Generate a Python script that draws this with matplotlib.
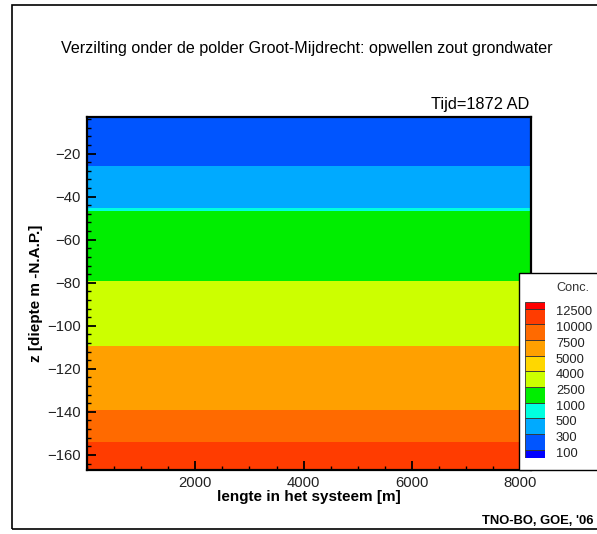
import numpy as np
import matplotlib
matplotlib.use('Agg')
import matplotlib.pyplot as plt
from matplotlib.colors import ListedColormap, BoundaryNorm
from matplotlib.ticker import MultipleLocator
from matplotlib.patches import Rectangle

plt.rcParams['font.family'] = ['Liberation Sans', 'DejaVu Sans']
plt.rcParams['axes.unicode_minus'] = True

# data
x_edges   = [0, 8200]
z_edges   = [-3, -25.8, -45.5, -46.9, -79.4, -109.5, -139.0, -153.8, -167]
conc      = [200, 400, 750, 1800, 3200, 6000, 8500, 11000]   # per laag, boven -> onder

levels    = [0, 100, 300, 500, 1000, 2500, 4000, 5000, 7500, 10000, 12500, 15000]
lev_label = ['12500', '10000', '7500', '5000', '4000', '2500', '1000', '500', '300', '100']
colors    = ['#0000FF', '#0055FF', '#00AAFF', '#00FFE0', '#00EE00', '#CCFF00',
             '#FFD700', '#FFA000', '#FF6A00', '#FF3C00', '#FF0000']

cmap = ListedColormap(colors)
norm = BoundaryNorm(levels, cmap.N)

fig = plt.figure(figsize=(5.97, 5.34), dpi=100)

# kader om alles
fig.add_artist(Rectangle((12/597, 1-529/534), 0.99, (529-5)/534, transform=fig.transFigure,
                         fill=False, edgecolor='black', linewidth=1.2))

ax = fig.add_axes([87/597, 1-470/534, 444/597, 353/534])
C = np.array(conc, dtype=float).reshape(-1, 1)
ax.pcolormesh(x_edges, z_edges, C, cmap=cmap, norm=norm)
ax.set_xlim(0, 8200)
ax.set_ylim(-167, -3)

ax.set_xticks([2000, 4000, 6000, 8000])
ax.set_yticks(np.arange(-160, 0, 20))
ax.xaxis.set_minor_locator(MultipleLocator(500))
ax.yaxis.set_minor_locator(MultipleLocator(4))
ax.tick_params(which='major', direction='in', length=6.5, width=1.3, labelsize=10.7,
               labelcolor='#222222', pad=4.5)
ax.tick_params(which='minor', direction='in', length=3, width=1.0)
ax.tick_params(top=False, right=False)
for s in ax.spines.values():
    s.set_linewidth(1.6)

ax.set_xlabel('lengte in het systeem [m]', fontsize=11, fontweight='bold', labelpad=0)
ax.set_ylabel('z [diepte m -N.A.P.]', fontsize=11, fontweight='bold', labelpad=3)

fig.text(307/597, 1-48/534, 'Verzilting onder de polder Groot-Mijdrecht: opwellen zout grondwater',
         ha='center', va='center', fontsize=11.6)
fig.text(529/597, 1-105/534, 'Tijd=1872 AD', ha='right', va='center', fontsize=11.8)
fig.text(594/597, 1-521/534, "TNO-BO, GOE, '06", ha='right', va='center', fontsize=9.4,
         fontweight='bold')

# legenda
fig.add_artist(Rectangle((519/597, 1-470/534), 0.2, (470-273)/534, transform=fig.transFigure,
                         facecolor='white', edgecolor='black', linewidth=1.0, zorder=5))
fig.text(556/597, 1-288/534, 'Conc.', ha='left', va='center', fontsize=9.2,
         color='#333333', zorder=6)

lax = fig.add_axes([525/597, 1-457.5/534, 20/597, (457.5-301.5)/534], zorder=6)
heights = [0.5] + [1]*9 + [0.45]
bottoms = np.concatenate([[0], np.cumsum(heights)[:-1]])
lax.bar(np.zeros(len(colors)), heights, bottom=bottoms, width=1, color=colors,
        edgecolor='#333333', linewidth=0.6, align='edge')
lax.set_xlim(0, 1)
lax.set_ylim(0, sum(heights))
lax.axis('off')
for i, lab in enumerate(lev_label):
    yb = bottoms[len(colors) - 1 - i]
    lax.text(1.55, yb - 0.25, lab, ha='left', va='center', fontsize=9.3,
             color='#222222', transform=lax.transData, clip_on=False)

fig.savefig('out.png', dpi=100)
